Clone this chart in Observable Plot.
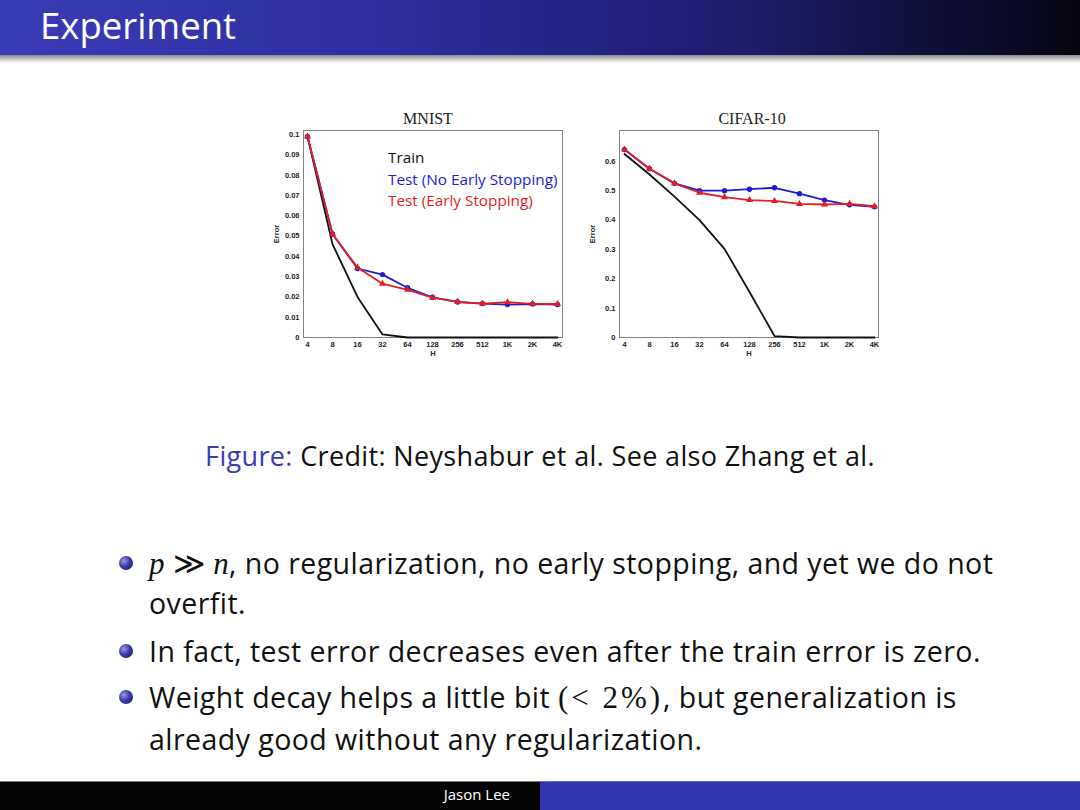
<!DOCTYPE html>
<html><head><meta charset="utf-8">
<script src="https://cdn.jsdelivr.net/npm/d3@7"></script>
<script src="https://cdn.jsdelivr.net/npm/@observablehq/plot@0.6"></script>
<style>
body{margin:0;width:1080px;height:810px;position:relative;background:#fff;overflow:hidden;font-family:"Open Sans",Lato,sans-serif;color:#111;font-variant-ligatures:none;}
#titlebar{position:absolute;left:0;top:0;width:1080px;height:55px;background:linear-gradient(to right,#3b3bb6 0%,#2e2ea0 35%,#1c1c6a 70%,#050510 100%);}
#shadow{position:absolute;left:0;top:55px;width:1080px;height:8px;background:linear-gradient(#8a8a8a,#fff);}
#title{position:absolute;left:40px;top:2px;color:#fff;font-size:36.5px;line-height:46px;}
.chart{position:absolute;top:105px;}
.legend{position:absolute;font-family:"Open Sans",Lato,sans-serif;font-size:15.3px;line-height:21.5px;white-space:nowrap;}
#caption{position:absolute;left:0;width:1080px;top:437px;text-align:center;font-size:27px;letter-spacing:0.35px;white-space:nowrap;}
.line{position:absolute;left:149px;font-size:28.5px;letter-spacing:0.45px;white-space:nowrap;line-height:36px;}
.ball{position:absolute;left:119px;width:14px;height:14px;border-radius:50%;background:radial-gradient(circle at 35% 35%,#9a9ae6 0%,#3a3aa8 45%,#14145a 100%);}
.m{font-family:"Liberation Serif","DejaVu Serif",serif;font-style:italic;font-size:31px;}
.r{font-family:"Liberation Serif","DejaVu Serif",serif;font-size:31px;}
.wide{letter-spacing:3px;}
#footL{position:absolute;left:0;top:781px;width:540px;height:29px;background:#050505;border-top:1px solid #777;}
#footR{position:absolute;left:540px;top:781px;width:540px;height:29px;background:#3434b0;border-top:1px solid #6a6ad0;}
#author{position:absolute;left:0;width:510px;top:784px;text-align:right;color:#fff;font-size:15px;}
</style></head>
<body>
<div id="titlebar"></div><div id="shadow"></div>
<div id="title">Experiment</div>
<div id="mnist" class="chart" style="left:265px"></div>
<div id="cifar" class="chart" style="left:581px"></div>
<div class="legend" style="left:388px;top:147px">
  <div style="color:#111">Train</div>
  <div style="color:#1c1cd6">Test (No Early Stopping)</div>
  <div style="color:#e01e24">Test (Early Stopping)</div>
</div>
<div id="caption"><span style="color:#3b3bb0">Figure:</span> Credit: Neyshabur et al. See also Zhang et al.</div>
<div class="ball" style="top:556px"></div>
<div class="line" style="top:545px"><span class="m">p</span> <span class="r">≫</span> <span class="m">n</span>, no regularization, no early stopping, and yet we do not</div>
<div class="line" style="top:585px">overfit.</div>
<div class="ball" style="top:644px"></div>
<div class="line" style="top:633px">In fact, test error decreases even after the train error is zero.</div>
<div class="ball" style="top:690px"></div>
<div class="line" style="top:679px">Weight decay helps a little bit <span class="r wide">(&lt; 2%)</span>, but generalization is</div>
<div class="line" style="top:721px">already good without any regularization.</div>
<div id="footL"></div><div id="footR"></div>
<div id="author">Jason Lee</div>
<script>
const H = ["4","8","16","32","64","128","256","512","1K","2K","4K"];
const mnistTrain = [0.099,0.046,0.020,0.0015,0,0,0,0,0,0,0];
const mnistNoES  = [0.099,0.051,0.034,0.031,0.0245,0.0198,0.0175,0.0167,0.0162,0.0165,0.0162];
const mnistES    = [0.099,0.051,0.0345,0.0265,0.0235,0.0196,0.0176,0.0167,0.0174,0.0166,0.0165];
const mnistYTicks = [0,0.01,0.02,0.03,0.04,0.05,0.06,0.07,0.08,0.09,0.1];
const cifarTrain = [0.625,0.555,0.48,0.40,0.302,0.155,0.005,0,0,0,0];
const cifarNoES  = [0.64,0.575,0.525,0.50,0.50,0.505,0.51,0.49,0.468,0.452,0.445];
const cifarES    = [0.64,0.575,0.525,0.493,0.478,0.468,0.465,0.455,0.453,0.455,0.447];
const cifarYTicks = [0,0.1,0.2,0.3,0.4,0.5,0.6];

const rows = vals => H.map((h,i) => ({h, err: vals[i]}));
const fmt = d => String(+d.toFixed(2));

function chart({title, train, noES, es, yMax, yTicks, insetRight, titleDx}) {
  const tr = rows(train), a = rows(noES), b = rows(es);
  return Plot.plot({
    width: 300, height: 262,
    marginLeft: 38, marginRight: 3, marginTop: 25, marginBottom: 30,
    style: {fontFamily: "'Liberation Sans',Arial,sans-serif", fontSize: "7.5px", fontWeight: "bold", background: "transparent", overflow: "visible", color: "#222"},
    x: {type: "point", domain: H, padding: 0, insetLeft: 4, insetRight},
    y: {domain: [0, yMax]},
    marks: [
      Plot.frame({stroke: "#808080"}),
      Plot.axisX({tickSize: 0, tickPadding: 4, label: "H", labelAnchor: "center", labelArrow: "none", labelOffset: 18}),
      Plot.axisY({ticks: yTicks, tickSize: 0, tickPadding: 4, tickFormat: fmt, label: "Error", labelAnchor: "center", labelArrow: "none", labelOffset: 30}),
      Plot.line(tr, {x: "h", y: "err", stroke: "#111", strokeWidth: 1.8}),
      Plot.line(a, {x: "h", y: "err", stroke: "#1c1cd6", strokeWidth: 1.8}),
      Plot.dot(a, {x: "h", y: "err", fill: "#1c1cd6", r: 2.7}),
      Plot.line(b, {x: "h", y: "err", stroke: "#e01e24", strokeWidth: 1.8}),
      Plot.dot(b, {x: "h", y: "err", symbol: "triangle", fill: "#e01e24", r: 2.6}),
      Plot.text([title], {frameAnchor: "top", dy: -18, dx: titleDx, fontFamily: "'Liberation Serif','Times New Roman',serif", fontSize: 16, fontWeight: "normal", fill: "#222"})
    ]
  });
}

document.getElementById("mnist").append(chart({title: "MNIST", train: mnistTrain, noES: mnistNoES, es: mnistES, yMax: 0.102, yTicks: mnistYTicks, insetRight: 5, titleDx: -5}));
document.getElementById("cifar").append(chart({title: "CIFAR-10", train: cifarTrain, noES: cifarNoES, es: cifarES, yMax: 0.705, yTicks: cifarYTicks, insetRight: 4, titleDx: 3}));
</script>
</body></html>
